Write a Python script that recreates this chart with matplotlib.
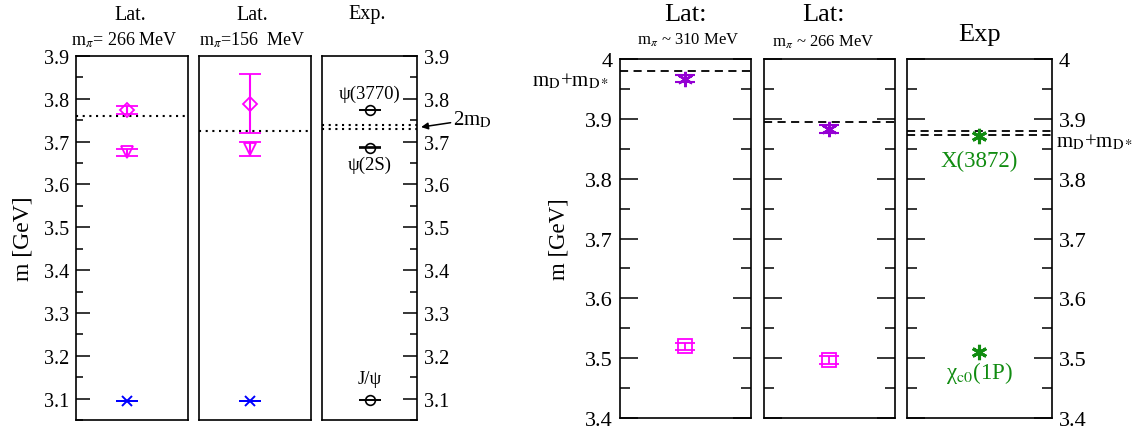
import matplotlib
matplotlib.use('Agg')
import matplotlib.pyplot as plt
from matplotlib.ticker import MultipleLocator

plt.rcParams['font.family'] = ['Liberation Serif', 'DejaVu Serif']
plt.rcParams['mathtext.fontset'] = 'stix'

# ---- left figure: vector charmonium (GeV) ----
lat266_vals = [3.774, 3.675]
lat266_errs = [0.010, 0.008]
lat266_jpsi = 3.095
lat266_thr = 3.760

lat156_vals = [3.789, 3.683]
lat156_errs = [0.068, 0.016]
lat156_jpsi = 3.095
lat156_thr = 3.725

exp_vec_vals = [3.7737, 3.6861, 3.0969]
exp_vec_names = ['ψ(3770)', 'ψ(2S)', 'J/ψ']
exp_vec_thr = [3.7297, 3.7392]

# ---- right figure: 1++ channel (GeV) ----
r310_star, r310_star_err = 3.967, 0.006
r310_sq, r310_sq_err = 3.520, 0.006
r310_thr = 3.980

r266_star, r266_star_err = 3.883, 0.007
r266_sq, r266_sq_err = 3.497, 0.007
r266_thr = 3.8945

exp_ax_vals = [3.8717, 3.5107]
exp_ax_names = ['X(3872)', r'χ$_{\rm c0}$(1P)']
exp_ax_thr = [3.8728, 3.8795]

W, H = 1133, 435
fig = plt.figure(figsize=(W / 100, H / 100), dpi=100)


def box(x0, x1, ytop, ybot):
    return fig.add_axes([x0 / W, 1 - ybot / H, (x1 - x0) / W, (ybot - ytop) / H])


def style(ax, ylim, left, right, fs, labelleft=False, labelright=False, maj=10, mnr=5):
    ax.set_xlim(0, 1)
    ax.set_ylim(*ylim)
    ax.set_xticks([])
    ax.yaxis.set_major_locator(MultipleLocator(0.1))
    ax.yaxis.set_minor_locator(MultipleLocator(0.05))
    ax.tick_params(axis='y', which='both', direction='in', left=left, right=right,
                   labelleft=labelleft, labelright=labelright, labelsize=fs, width=1.1,
                   pad=5)
    ax.tick_params(axis='y', which='major', length=maj)
    ax.tick_params(axis='y', which='minor', length=mnr)
    for s in ax.spines.values():
        s.set_linewidth(1.2)


MAG = '#ff00ff'
BLUE = '#0000ff'
PURP = '#9400d3'
GREEN = '#118c11'
dotted = (0, (1, 2.2))
dashed = (0, (4.5, 3))

# left figure panels
ylim_l = (3.05, 3.9)
a1 = box(75.7, 187.7, 57, 421)
a2 = box(199.3, 311.3, 57, 421)
a3 = box(322.3, 417.3, 57, 421)
style(a1, ylim_l, True, False, 14.5, labelleft=True)
style(a2, ylim_l, False, False, 14.5)
style(a3, ylim_l, False, True, 14.5, labelright=True)
a1.set_yticklabels([f'{v:.1f}' for v in a1.get_yticks()])
a3.set_yticklabels([f'{v:.1f}' for v in a3.get_yticks()])

for ax, vals, errs, jpsi, thr, xm in [(a1, lat266_vals, lat266_errs, lat266_jpsi, lat266_thr, 0.455),
                                      (a2, lat156_vals, lat156_errs, lat156_jpsi, lat156_thr, 0.45)]:
    ax.axhline(thr, color='black', linestyle=dotted, linewidth=1.5)
    ax.errorbar([xm], [vals[0]], yerr=[errs[0]], fmt='D', ms=7, mfc='none', mec=MAG,
                color=MAG, capsize=8, elinewidth=1.5, capthick=1.5, mew=1.3)
    ax.errorbar([xm], [vals[1]], yerr=[errs[1]], fmt='v', ms=8, mfc='none', mec=MAG,
                color=MAG, capsize=8, elinewidth=1.5, capthick=1.5, mew=1.3)
    ax.errorbar([xm], [jpsi], yerr=[0.0005], fmt='x', ms=7, color=BLUE, mew=1.4,
                capsize=8, capthick=1.5)

for t in exp_vec_thr:
    a3.axhline(t, color='black', linestyle=dotted, linewidth=1.5)
a3.errorbar([0.5] * 3, exp_vec_vals, yerr=[0.0005] * 3, fmt='o', ms=7, mfc='none',
            mec='black', color='black', mew=1.2, capsize=8, capthick=1.5)
a3.text(0.5, exp_vec_vals[0] + 0.02, exp_vec_names[0], ha='center', va='bottom', fontsize=13.5)
a3.text(0.5, exp_vec_vals[1] - 0.02, exp_vec_names[1], ha='center', va='top', fontsize=13.5)
a3.text(0.5, exp_vec_vals[2] + 0.03, exp_vec_names[2], ha='center', va='bottom', fontsize=13.5)
a3.annotate(r'2m$_{\rm D}$', xy=(1.04, 3.734), xycoords=('axes fraction', 'data'),
            xytext=(1.38, 3.752), textcoords=('axes fraction', 'data'),
            fontsize=15, va='center', ha='left',
            arrowprops=dict(arrowstyle='-|>', color='black', lw=1.1, mutation_scale=10,
                            shrinkA=0, shrinkB=0))
a1.set_ylabel('m [GeV]', fontsize=17)
a1.yaxis.set_label_coords(-0.38, 0.5)

fig.text(130 / W, 1 - 15 / H, 'Lat.', ha='center', va='center', fontsize=14.5)
fig.text(124 / W, 1 - 40 / H, r'm$_\pi$= 266 MeV', ha='center', va='center', fontsize=13)
fig.text(252 / W, 1 - 15 / H, 'Lat.', ha='center', va='center', fontsize=14.5)
fig.text(252 / W, 1 - 40 / H, r'm$_\pi$=156  MeV', ha='center', va='center', fontsize=13)
fig.text(367 / W, 1 - 15 / H, 'Exp.', ha='center', va='center', fontsize=14.5)

# right figure panels
ylim_r = (3.4, 4.0)
b1 = box(620, 750.7, 60, 419)
b2 = box(763.5, 894.5, 60, 419)
b3 = box(907, 1051.7, 60, 419)
style(b1, ylim_r, True, True, 16, labelleft=True, maj=13, mnr=7)
style(b2, ylim_r, True, True, 16, maj=13, mnr=7)
style(b3, ylim_r, True, True, 16, labelright=True, maj=13, mnr=7)
for ax in (b1, b3):
    ax.set_yticklabels([f'{v:g}' if abs(v - 4) < 1e-9 else f'{v:.1f}' for v in ax.get_yticks()])

star = (6, 2, 0)
for ax, st, ste, sq, sqe, thr in [(b1, r310_star, r310_star_err, r310_sq, r310_sq_err, r310_thr),
                                  (b2, r266_star, r266_star_err, r266_sq, r266_sq_err, r266_thr)]:
    ax.axhline(thr, color='black', linestyle=dashed, linewidth=1.3)
    ax.errorbar([0.5], [st], yerr=[ste], fmt='none', color=PURP, capsize=7,
                capthick=1.5, elinewidth=1.5)
    ax.plot([0.5], [st], marker=star, ms=11, color=PURP, mew=1.8)
    ax.errorbar([0.5], [sq], yerr=[sqe], fmt='s', ms=10, mfc='none', mec=MAG, color=MAG,
                capsize=7, capthick=1.3, elinewidth=1.3, mew=1.3)

for t in exp_ax_thr:
    b3.axhline(t, color='black', linestyle=dashed, linewidth=1.3)
b3.plot([0.5] * 2, exp_ax_vals, linestyle='none', marker=star, ms=11, color=GREEN, mew=2.2)
b3.text(0.5, exp_ax_vals[0] - 0.024, exp_ax_names[0], ha='center', va='top', fontsize=16.5,
        color=GREEN)
b3.text(0.5, exp_ax_vals[1] - 0.012, exp_ax_names[1], ha='center', va='top', fontsize=16.5,
        color=GREEN)
b3.text(1.03, 3.862, r'm$_{\rm D}$+m$_{\rm D*}$', transform=b3.get_yaxis_transform(),
        ha='left', va='center', fontsize=15)
b1.text(-0.08, 3.964, r'm$_{\rm D}$+m$_{\rm D*}$', transform=b1.get_yaxis_transform(),
        ha='right', va='center', fontsize=15)
b1.set_ylabel('m [GeV]', fontsize=16.5)
b1.yaxis.set_label_coords(-0.383, 0.5)

fig.text(685 / W, 1 - 15 / H, 'Lat:', ha='center', va='center', fontsize=19)
fig.text(688 / W, 1 - 40 / H, r'm$_\pi$ ~ 310 MeV', ha='center', va='center', fontsize=12)
fig.text(823 / W, 1 - 15 / H, 'Lat:', ha='center', va='center', fontsize=19)
fig.text(823 / W, 1 - 42 / H, r'm$_\pi$ ~ 266 MeV', ha='center', va='center', fontsize=12)
fig.text(980 / W, 1 - 35 / H, 'Exp', ha='center', va='center', fontsize=19)

fig.savefig('out.png', dpi=100)
